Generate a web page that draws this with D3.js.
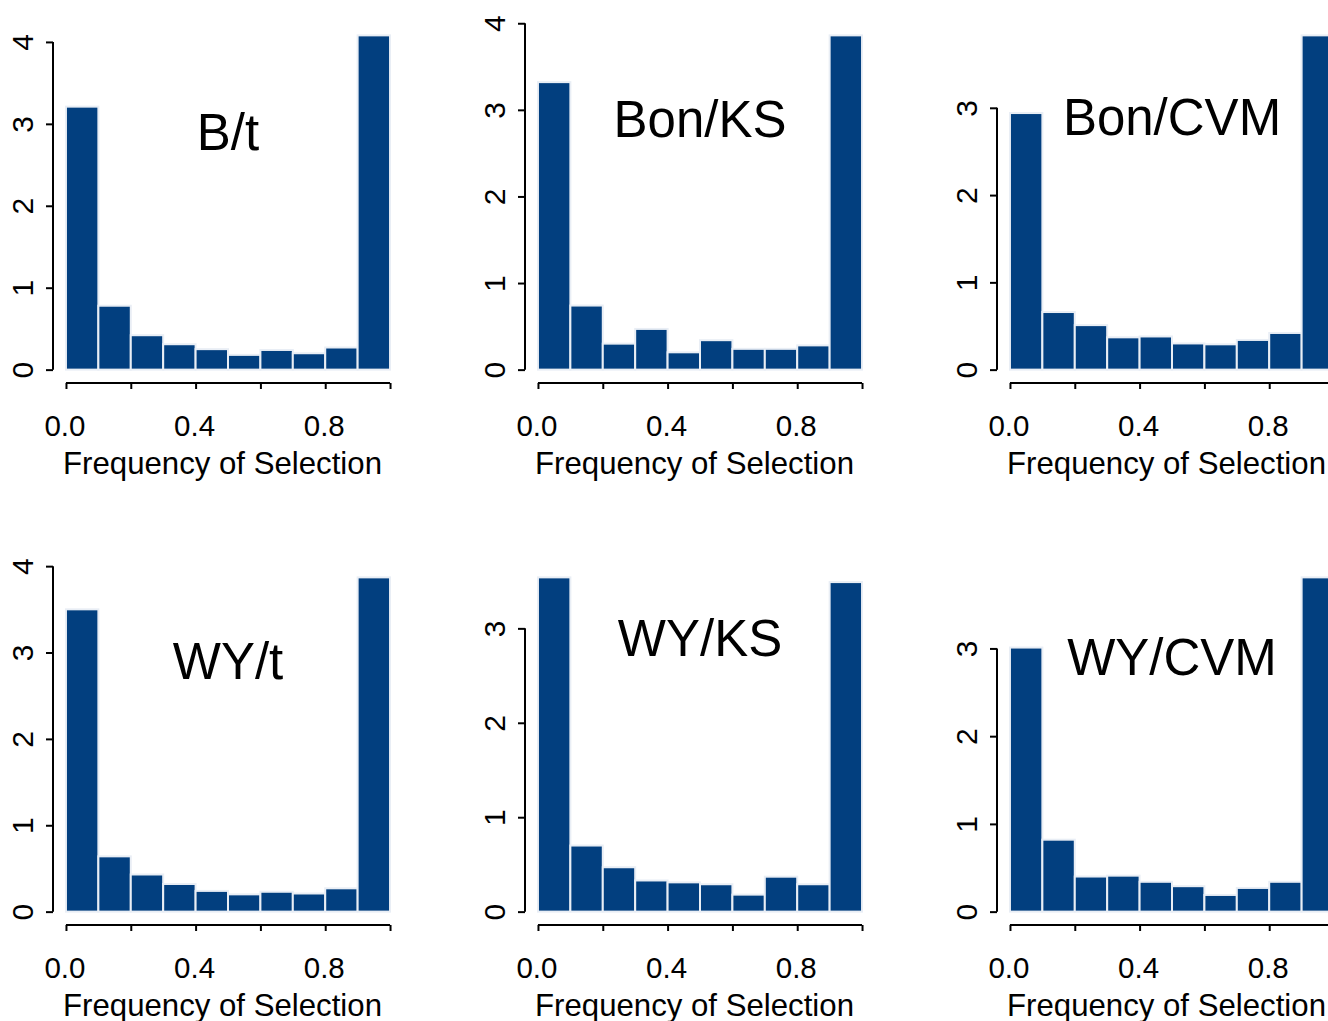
<!DOCTYPE html>
<html>
<head>
<meta charset="utf-8">
<script src="https://cdn.jsdelivr.net/npm/d3@7"></script>
<style>
  html, body { margin: 0; padding: 0; background: #ffffff; }
  svg { display: block; }
  text { font-family: "Liberation Sans", Arial, Helvetica, sans-serif; fill: #000; }
</style>
</head>
<body>
<svg id="chart" width="1328" height="1021"></svg>
<script>
// ---- data ----
const panelTitles = ["B/t", "Bon/KS", "Bon/CVM", "WY/t", "WY/KS", "WY/CVM"];
const binBreaks = [0, 0.1, 0.2, 0.3, 0.4, 0.5, 0.6, 0.7, 0.8, 0.9, 1.0];
const densBt     = [3.21, 0.78, 0.42, 0.31, 0.25, 0.18, 0.24, 0.20, 0.27, 4.08];
const densBonKS  = [3.32, 0.74, 0.30, 0.47, 0.20, 0.34, 0.24, 0.24, 0.28, 3.86];
const densBonCVM = [2.94, 0.66, 0.51, 0.37, 0.38, 0.30, 0.29, 0.34, 0.42, 3.83];
const densWYt    = [3.50, 0.64, 0.43, 0.32, 0.24, 0.20, 0.23, 0.21, 0.27, 3.87];
const densWYKS   = [3.54, 0.70, 0.47, 0.33, 0.31, 0.29, 0.18, 0.37, 0.29, 3.49];
const densWYCVM  = [3.01, 0.82, 0.40, 0.41, 0.34, 0.29, 0.19, 0.27, 0.34, 3.81];
const panelDens = [densBt, densBonKS, densBonCVM, densWYt, densWYKS, densWYCVM];
const xTickValues = [0, 0.2, 0.4, 0.6, 0.8, 1.0];
const xTickLabels = ["0.0", "", "0.4", "", "0.8", ""];
const xLabel = "Frequency of Selection";
const titleY = 2.9;

// ---- layout ----
const colStep = 472, rowStep = 542;
const plotLeft = 53, plotW = 350, plotTop = 22, plotH = 361;
const barFill = "#023f7f";

const svg = d3.select("#chart");

panelDens.forEach((dens, i) => {
  const col = i % 3, row = Math.floor(i / 3);
  const g = svg.append("g")
    .attr("transform", `translate(${col * colStep + plotLeft},${row * rowStep + plotTop})`);

  const M = d3.max(dens);
  const x = d3.scaleLinear().domain([-0.04, 1.04]).range([0, plotW]);
  const y = d3.scaleLinear().domain([-0.04 * M, 1.04 * M]).range([plotH, 0]);

  const bins = dens.map((d, k) => ({ x0: binBreaks[k], x1: binBreaks[k + 1], v: d }));

  g.selectAll("rect.bar").data(bins).enter().append("rect")
    .attr("class", "bar")
    .attr("x", d => x(d.x0))
    .attr("width", d => x(d.x1) - x(d.x0))
    .attr("y", d => y(d.v))
    .attr("height", d => y(0) - y(d.v))
    .attr("fill", barFill)
    .attr("stroke", "#e9eef5")
    .attr("stroke-width", 2);

  // y axis
  const yTicks = y.ticks(5).filter(t => t >= 0 && Number.isInteger(t));
  const yAxis = g.append("g")
    .call(d3.axisLeft(y).tickValues(yTicks).tickSize(7).tickFormat(d3.format("d")));
  yAxis.select(".domain").remove();
  yAxis.selectAll(".tick line").attr("stroke", "#000").attr("stroke-width", 2);
  yAxis.selectAll(".tick text")
    .attr("x", 0).attr("y", 0).attr("dy", 0)
    .attr("transform", "translate(-20,0) rotate(-90)")
    .attr("text-anchor", "middle")
    .style("font-size", "30px")
    .style("font-family", '"Liberation Sans", Arial, sans-serif');
  yAxis.append("line")
    .attr("x1", 0).attr("x2", 0)
    .attr("y1", y(0)).attr("y2", y(d3.max(yTicks)))
    .attr("stroke", "#000").attr("stroke-width", 2);

  // x axis
  const xAxis = g.append("g").attr("transform", `translate(0,${plotH})`)
    .call(d3.axisBottom(x).tickValues(xTickValues).tickSize(6)
      .tickFormat((d, k) => xTickLabels[k]));
  xAxis.select(".domain").remove();
  xAxis.selectAll(".tick line").attr("stroke", "#000").attr("stroke-width", 2);
  xAxis.selectAll(".tick text")
    .attr("x", -1.5)
    .attr("y", 52.5).attr("dy", 0)
    .style("font-size", "29.5px")
    .style("font-family", '"Liberation Sans", Arial, sans-serif');
  xAxis.append("line")
    .attr("x1", x(0)).attr("x2", x(1)).attr("y1", 0).attr("y2", 0)
    .attr("stroke", "#000").attr("stroke-width", 2);

  // axis label
  g.append("text")
    .attr("x", x(0.5) - 5.5)
    .attr("y", plotH + 91)
    .attr("text-anchor", "middle")
    .style("font-size", "31.2px")
    .text(xLabel);

  // title
  g.append("text")
    .attr("x", x(0.5))
    .attr("y", y(titleY) + 0.358 * 51)
    .attr("text-anchor", "middle")
    .style("font-size", "51px")
    .text(panelTitles[i]);
});
</script>
</body>
</html>
